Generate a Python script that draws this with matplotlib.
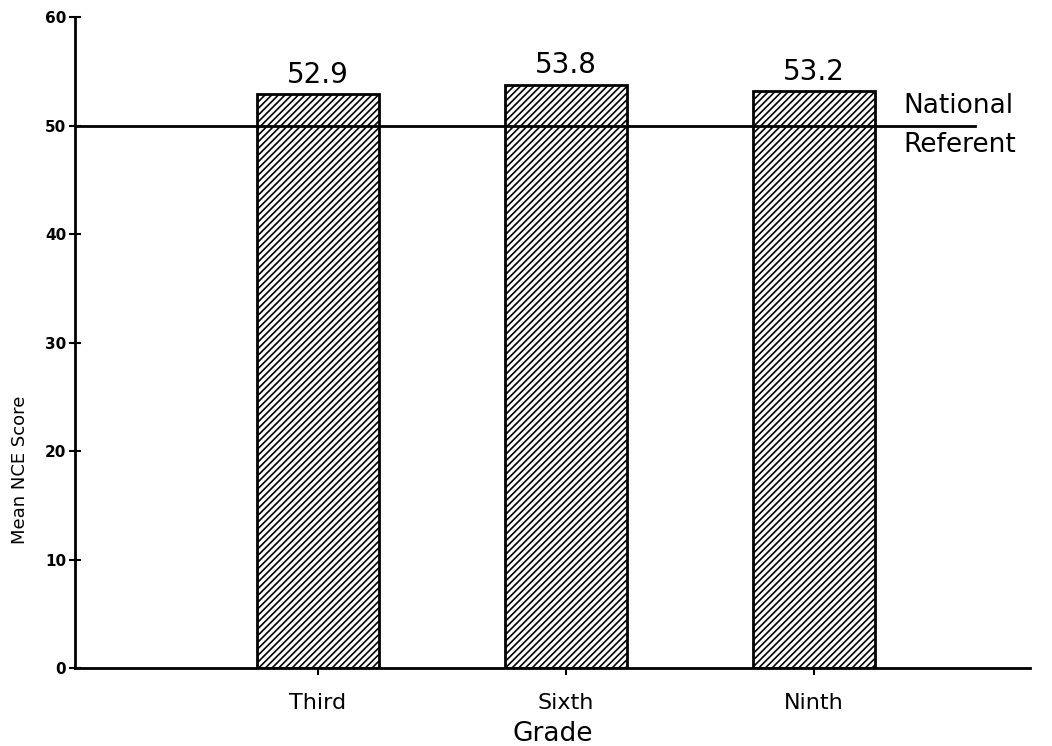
import numpy as np
import matplotlib.pyplot as plt

grades = ['Third', 'Sixth', 'Ninth']
scores = [52.9, 53.8, 53.2]
referent = 50
yticks = [0, 10, 20, 30, 40, 50, 60]

plt.rcParams['font.family'] = ['DejaVu Sans']
plt.rcParams['hatch.linewidth'] = 1.2

fig = plt.figure(figsize=(10.52, 7.46), dpi=100)
ax = fig.add_axes([0.071, 0.1046, 0.908, 0.872])

x = np.arange(1, len(grades) + 1)
bars = ax.bar(x, scores, width=0.49, color='white', edgecolor='black',
              linewidth=2, hatch='/////', zorder=2)

# national referent line and its label
ax.plot([0.02, 3.65], [referent, referent], color='black', lw=2, zorder=3)
ax.text(3.36, referent + 0.6, 'National', fontsize=19, va='bottom', ha='left')
ax.text(3.36, referent - 0.6, 'Referent', fontsize=19, va='top', ha='left')

for xi, s in zip(x, scores):
    ax.text(xi, s + 0.5, f'{s:.1f}', ha='center', va='bottom', fontsize=20)

ax.set_xlim(0.02, 3.87)
ax.set_ylim(0, 60)
ax.set_yticks(yticks)
ax.set_yticklabels([str(t) for t in yticks], fontsize=11, fontweight='bold')
ax.set_xticks(x)
ax.set_xticklabels(grades, fontsize=16)
ax.tick_params(axis='y', direction='inout', length=8, width=1.5, pad=2)
ax.tick_params(axis='x', direction='out', length=5, width=1.5, pad=13)

ax.spines['top'].set_visible(False)
ax.spines['right'].set_visible(False)
ax.spines['left'].set_linewidth(2)
ax.spines['bottom'].set_linewidth(2)

ax.set_ylabel('Mean NCE Score', fontsize=13)
ax.yaxis.set_label_coords(-0.048, 0.304)
ax.set_xlabel('Grade', fontsize=19, labelpad=6)

fig.savefig('out.png', dpi=100)
